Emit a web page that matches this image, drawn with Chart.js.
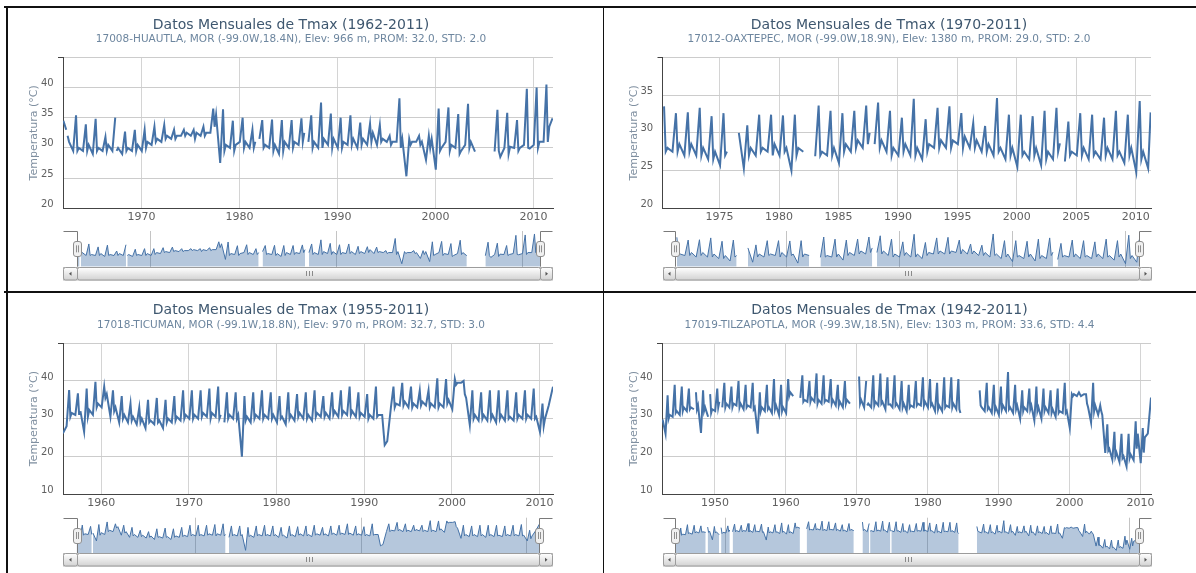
<!DOCTYPE html>
<html lang="es">
<head>
<meta charset="utf-8">
<title>Datos Mensuales de Tmax</title>
<script src="https://cdn.jsdelivr.net/npm/chart.js@4.4.1/dist/chart.umd.min.js"></script>
<style>
  html, body { margin:0; padding:0; background:#fff; }
  body { position:relative; width:1196px; height:573px; overflow:hidden; }
  canvas { position:absolute; }
  .rule { position:absolute; background:#111; }
</style>
</head>
<body>
<div class="rule" style="left:4px;top:6px;width:1192px;height:2px"></div>
<div class="rule" style="left:4px;top:291px;width:1192px;height:2px"></div>
<div class="rule" style="left:6px;top:6px;width:1.5px;height:567px"></div>
<div class="rule" style="left:602.5px;top:6px;width:1.5px;height:567px"></div>

<canvas id="main1"></canvas><canvas id="nav1"></canvas>
<canvas id="main2"></canvas><canvas id="nav2"></canvas>
<canvas id="main3"></canvas><canvas id="nav3"></canvas>
<canvas id="main4"></canvas><canvas id="nav4"></canvas>

<script>
// ================= DATA =================
// four readings per year: winter low (Jan), dry-season peak (Apr/May), early-rain dip (Jun), rainy-season value (Aug)
const MONTH_POS = { low: 0.04, peak: 0.33, dip: 0.47, mid: 0.62 };

// 17008 HUAUTLA (1962-2011)
const s1Start = 1962;
const s1Low  = [34.5,29.5,29.5,29.0,29.5,29.5,29.0,29.5,29.5,30.5, 31.0,31.5,32.0,32.0,32.0,32.5,27.5,30.0,31.0,30.0, 31.5,30.0,29.0,30.0,30.5,31.0,30.0,30.5,30.0,30.5, 30.0,30.5,30.5,31.0,31.0,25.3,31.0,28.0,26.4,31.0, 30.0,30.5,29.4,null,29.4,30.0,30.0,30.5,30.5,31.0];
const s1Peak = [33.0,35.4,33.9,34.8,31.8,35.0,32.7,33.0,33.0,33.5, 33.8,33.0,33.0,33.0,33.5,36.5,36.4,34.5,35.0,33.0, 34.6,34.7,34.6,34.6,34.9,35.4,37.5,35.7,35.0,35.4, 34.2,34.0,33.8,32.0,38.2,31.5,32.0,32.0,36.5,36.7, 35.6,37.3,null,null,36.3,35.8,34.6,39.8,40.0,40.5];
const s1Dip  = [32.0,29.5,29.5,29.5,29.5,29.5,29.5,29.5,30.0,31.0, 31.5,31.5,32.0,31.5,32.0,33.5,29.5,29.5,30.0,30.0, 30.0,29.5,29.5,30.0,31.0,30.0,30.0,30.0,30.0,30.5, 30.5,31.0,31.0,30.5,30.0,30.5,30.5,30.0,29.5,29.5, 29.0,30.0,null,null,29.5,29.0,29.5,30.0,30.0,31.0];
const s1Mid  = [31.0,30.0,30.5,30.0,30.5,30.0,30.0,30.5,31.0,31.5, 32.0,32.0,32.5,32.5,32.5,35.5,30.5,30.5,31.0,31.0, 30.5,30.5,31.0,31.0,32.5,31.0,31.5,31.5,31.0,31.5, 31.5,32.5,31.5,31.0,31.5,31.0,31.0,31.5,30.0,30.5, 29.5,31.0,null,null,28.5,30.2,30.0,29.9,31.0,33.5];
const s1Breaks = [1962.45, 1967.45, 1981.7, 1986.9];
const s1End = [2011.95, 34.9];

// 17012 OAXTEPEC (1970-2011)
const s2Start = 1970;
const s2Low  = [null,27.5,27.0,27.0,26.5,25.7,null,25.3,27.0,27.5, 27.0,25.0,27.5,26.9,27.0,26.0,27.5,28.0,28.5,27.5, 27.0,27.0,26.5,28.0,28.0,28.5,28.0,27.5,27.0,26.5, 25.5,26.5,25.7,26.5,26.2,27.0,26.5,26.5,26.5,26.0, 24.8,25.3];
const s2Peak = [33.5,32.6,32.7,33.3,32.2,32.6,null,31.0,32.4,32.4, 32.3,32.4,null,33.6,32.9,32.6,32.9,33.6,34.0,32.9, 32.0,34.5,31.8,33.3,33.5,32.6,31.3,30.9,34.6,32.4, 32.4,32.2,32.9,33.3,31.5,32.6,32.4,32.0,32.9,32.4, 34.2,null];
const s2Dip  = [27.5,27.5,27.5,27.0,26.5,27.0,null,27.0,27.5,27.0, 27.5,27.0,null,27.0,27.0,27.5,28.0,28.5,28.0,27.0, 27.5,27.0,27.5,28.0,28.0,28.0,28.0,27.5,27.5,27.0, 27.0,27.0,26.5,27.5,27.0,27.0,27.0,27.0,27.0,27.0, 26.5,null];
const s2Mid  = [28.0,28.5,28.5,28.0,27.5,27.5,30.0,28.0,28.0,28.5, 28.0,28.0,null,27.5,28.0,28.5,29.0,30.0,29.0,28.0, 28.5,28.0,28.5,29.0,29.0,29.5,29.0,28.5,28.0,28.0, 27.5,28.0,27.5,28.6,27.5,28.0,27.5,28.0,27.5,28.0, 27.5,null];
const s2Breaks = [1987.8, 2003.8];
const s2End = [2011.25, 32.7];

// 17018 TICUMAN (1955-2011)
const s3Start = 1955;
const s3Low  = [null,28.0,31.0,26.5,31.0,33.0,30.5,29.0,29.0,28.5, 27.5,28.5,27.5,29.0,29.5,30.0,30.0,30.5,30.5,29.0, 30.0,19.9,29.0,30.0,30.0,29.0,28.5,29.5,30.0,29.5, 30.5,30.0,30.5,31.0,30.5,30.5,30.0,31.0,33.0,33.5, 33.0,33.0,33.5,33.0,33.0,32.5,39.5,28.3,29.5,29.5, 29.0,29.5,29.5,30.0,30.0,26.5,33.5];
const s3Peak = [null,37.6,36.7,38.0,39.8,38.5,37.5,36.0,34.0,33.0, 35.0,35.5,35.0,36.0,37.5,37.5,37.5,38.0,38.5,37.0, 37.0,36.0,37.0,37.5,37.0,36.0,37.0,36.5,37.0,37.5, 36.0,37.0,37.5,38.5,37.0,36.5,38.5,23.0,38.5,39.5, 38.5,37.5,37.5,40.7,40.5,40.5,40.0,37.5,37.0,37.5, 37.5,37.5,37.0,37.5,38.0,34.0,null];
const s3Dip  = [null,30.5,31.0,30.5,33.0,35.5,32.0,30.0,29.5,29.0, 29.0,29.0,29.0,29.5,30.0,30.0,30.5,30.0,30.0,30.0, 30.0,29.5,30.0,30.0,30.0,30.0,30.0,30.5,30.0,30.5, 30.5,31.0,31.0,31.0,30.5,30.0,30.5,23.5,33.0,33.5, 33.0,33.5,33.0,33.0,34.0,39.0,36.5,30.0,30.0,30.0, 30.0,30.0,30.0,30.0,30.0,28.0,null];
const s3Mid  = [26.1,31.5,32.0,32.3,34.0,36.5,33.0,31.0,30.5,30.0, 29.5,29.5,30.0,30.5,31.0,31.0,31.5,31.5,31.0,31.0, 31.0,30.5,31.0,31.0,31.0,30.5,31.0,31.5,31.0,31.5, 31.5,32.0,32.0,32.0,31.5,31.0,31.0,24.0,34.0,34.5, 34.0,34.5,34.0,34.0,35.0,39.5,35.5,31.0,31.0,31.0, 31.0,30.5,31.0,31.0,30.5,30.0,null];
const s3Breaks = [1957.5, 1973.9];
const s3End = [2011.53, 38.5];

// 17019 TILZAPOTLA (1942-2011)
const s4Start = 1942;
const s4Low  = [null,26.0,30.5,31.0,32.0,32.5,26.2,30.5,32.0,33.0, 33.0,33.5,32.5,33.0,26.0,32.0,31.5,31.0,31.5,36.0, 35.5,34.5,34.5,34.0,34.5,33.5,33.0,34.0,null,33.0, 33.0,33.5,32.5,33.0,32.5,32.0,33.0,33.5,33.0,32.0, 32.0,33.0,32.5,null,null,null,32.0,31.5,31.0,32.0, 31.5,30.0,32.0,29.5,30.0,31.5,30.5,31.5,27.5,36.0, 36.5,29.0,31.0,20.9,19.1,18.5,17.3,19.0,18.2,26.0];
const s4Peak = [null,36.2,39.0,38.5,38.0,37.0,37.5,36.5,38.0,39.5, 38.5,40.0,39.0,39.5,37.0,39.0,40.5,39.0,40.5,null, 41.5,40.0,42.0,41.5,40.5,39.0,40.0,null,41.2,40.0, 41.5,42.0,41.0,41.5,40.0,39.0,40.0,41.0,40.5,39.5, 41.0,41.0,40.5,null,null,37.5,39.5,39.0,38.5,42.4, 39.0,37.5,38.0,38.5,38.0,37.5,38.0,39.5,36.5,37.0, 36.5,39.5,33.5,28.5,26.5,26.0,26.0,29.3,27.5,null];
const s4Dip  = [null,30.0,31.5,32.0,32.5,32.5,32.0,31.5,33.0,33.0, 33.0,33.0,33.0,32.5,32.0,32.5,32.5,32.0,36.0,null, 34.5,34.5,34.0,34.5,34.0,33.5,34.0,null,34.0,33.5, 33.5,34.0,33.5,33.5,33.0,33.0,33.5,33.5,33.5,32.5, 33.0,33.0,32.5,null,null,33.5,32.5,32.0,32.5,32.5, 32.5,32.0,32.5,32.0,32.0,31.5,31.5,31.5,36.0,36.5, 34.0,32.0,32.0,21.5,20.0,19.5,19.5,22.0,21.0,null];
const s4Mid  = [29.8,31.0,32.0,33.0,33.0,33.5,33.0,32.5,34.5,34.0, 34.0,34.0,33.5,33.0,33.0,33.0,33.5,33.0,37.0,null, 35.0,35.5,35.0,35.0,35.0,34.5,35.0,null,35.0,34.0, 34.5,34.5,34.0,34.0,34.0,33.5,34.0,34.5,34.0,33.5, 33.5,34.0,31.5,null,null,33.0,33.0,33.0,33.5,33.0, 33.5,33.0,33.5,33.0,33.0,32.5,32.0,32.0,36.5,36.0, 33.0,33.5,31.0,22.0,21.0,20.0,20.5,26.0,25.0,null];
const s4Breaks = [1947.2, 1949.2, 1951.0, 1971.45, 1974.6];
const s4End = [2011.49, 35.6];

// titles
const titles = ['Datos Mensuales de Tmax (1962-2011)','Datos Mensuales de Tmax (1970-2011)','Datos Mensuales de Tmax (1955-2011)','Datos Mensuales de Tmax (1942-2011)'];
const subtitles = [
  '17008-HUAUTLA, MOR (-99.0W,18.4N), Elev: 966 m, PROM: 32.0, STD: 2.0',
  '17012-OAXTEPEC, MOR (-99.0W,18.9N), Elev: 1380 m, PROM: 29.0, STD: 2.0',
  '17018-TICUMAN, MOR (-99.1W,18.8N), Elev: 970 m, PROM: 32.7, STD: 3.0',
  '17019-TILZAPOTLA, MOR (-99.3W,18.5N), Elev: 1303 m, PROM: 33.6, STD: 4.4'
];
const yAxisTitle = 'Temperatura (°C)';

// axis ranges and tick labels
const xRanges = [[1962.0, 2012.0],[1970.2, 2011.28],[1955.63, 2011.53],[1942.54, 2011.49]];
const xTicks = [[1970,1980,1990,2000,2010],[1975,1980,1985,1990,1995,2000,2005,2010],[1960,1970,1980,1990,2000,2010],[1950,1960,1970,1980,1990,2000,2010]];
const navTicks = [[1970,1990,2010],[1980,1990,2000,2010],[1970,1990,2010],[1950,1980,2010]];
const yTicks = [[20,25,30,35,40,45],[20,25,30,35,40],[10,20,30,40,50],[10,20,30,40,50]];

// ================= STYLE / LAYOUT =================
const FONT = "'DejaVu Sans', Verdana, sans-serif";
const SERIES_COLOR = '#4572A7';
const NAV_FILL = 'rgba(69,114,167,0.40)';

const mainLayout = [
  {left:8,   top:9,   w:566, h:216, yW:55,   rW:21, xH:16.7, tPad:9,   sPadT:2,   sPadB:12.8},
  {left:608, top:9,   w:562, h:216, yW:54.5, rW:19, xH:16.7, tPad:9,   sPadT:2,   sPadB:12.8},
  {left:8,   top:294, w:566, h:216, yW:55,   rW:21, xH:16,   tPad:9.7, sPadT:2,   sPadB:13.1},
  {left:608, top:294, w:563, h:216, yW:54,   rW:20, xH:16,   tPad:9.7, sPadT:2,   sPadB:13.1}
];
const navLayout = [
  {left:63,    top:228, w:490, h:54, pl:13.5, pr:12.3, pt:3,   pb:15.3},
  {left:662.5, top:228, w:489, h:54, pl:12.4, pr:12.5, pt:3,   pb:15.3},
  {left:63,    top:514, w:490, h:54, pl:13.5, pr:13.4, pt:3.7, pb:14.7},
  {left:662.5, top:514, w:489, h:54, pl:12.4, pr:12.5, pt:3.7, pb:14.7}
];

// ================= BUILD =================
function buildSeries(start, low, peak, dip, mid, breaks, end) {
  let pts = [];
  for (let i = 0; i < low.length; i++) {
    const yr = start + i;
    pts.push({x: yr + MONTH_POS.low,  y: low[i]});
    pts.push({x: yr + MONTH_POS.peak, y: peak[i]});
    pts.push({x: yr + MONTH_POS.dip,  y: dip[i]});
    pts.push({x: yr + MONTH_POS.mid,  y: mid[i]});
  }
  breaks.forEach(b => pts.push({x: b, y: null}));
  if (end) {
    // unread months of the final partial year lie before the last reading; drop those placeholders
    const lastYear = start + low.length - 1;
    pts = pts.filter(p => !(p.y === null && p.x > lastYear && p.x < end[0]));
    pts.push({x: end[0], y: end[1]});
  }
  pts.sort((a, b) => a.x - b.x);
  return pts;
}

const series = [
  buildSeries(s1Start, s1Low, s1Peak, s1Dip, s1Mid, s1Breaks, s1End),
  buildSeries(s2Start, s2Low, s2Peak, s2Dip, s2Mid, s2Breaks, s2End),
  buildSeries(s3Start, s3Low, s3Peak, s3Dip, s3Mid, s3Breaks, s3End),
  buildSeries(s4Start, s4Low, s4Peak, s4Dip, s4Mid, s4Breaks, s4End)
];

function sizeCanvas(id, L) {
  const c = document.getElementById(id);
  c.width = L.w; c.height = L.h;
  c.style.left = L.left + 'px'; c.style.top = L.top + 'px';
  c.style.width = L.w + 'px'; c.style.height = L.h + 'px';
  return c;
}

const navDecor = {
  id: 'navDecor',
  afterDraw(chart) {
    const {ctx, chartArea: a, width: W} = chart;
    const T = Math.round(a.top) + 0.5;
    const B = a.bottom;
    const xl = Math.round(a.left) + 0.5, xr = Math.round(a.right) - 0.5;
    ctx.save();
    // outline
    ctx.strokeStyle = '#7a7a7a'; ctx.lineWidth = 1;
    ctx.beginPath();
    ctx.moveTo(0.5, T); ctx.lineTo(xl, T); ctx.lineTo(xl, B);
    ctx.moveTo(W - 0.5, T); ctx.lineTo(xr, T); ctx.lineTo(xr, B);
    ctx.stroke();
    // scrollbar
    const sy = Math.round(B) + 0.5, sh = 12.5;
    const grad = (y0, y1, c0, c1) => { const g = ctx.createLinearGradient(0, y0, 0, y1); g.addColorStop(0, c0); g.addColorStop(1, c1); return g; };
    ctx.fillStyle = grad(sy, sy + sh, '#f3f3f3', '#ffffff');
    ctx.fillRect(0.5, sy, W - 1, sh);
    ctx.strokeStyle = '#bdbdbd'; ctx.strokeRect(0.5, sy, W - 1, sh);
    // thumb
    ctx.beginPath(); ctx.roundRect(xl, sy, xr - xl, sh, 2);
    ctx.fillStyle = grad(sy, sy + sh, '#ffffff', '#d2d2d2'); ctx.fill();
    ctx.strokeStyle = '#9c9c9c'; ctx.stroke();
    // buttons
    [[0.5, xl], [xr, W - 0.5]].forEach(([b0, b1], k) => {
      ctx.beginPath(); ctx.roundRect(b0, sy, b1 - b0, sh, 2);
      ctx.fillStyle = grad(sy, sy + sh, '#ffffff', '#d2d2d2'); ctx.fill();
      ctx.strokeStyle = '#9c9c9c'; ctx.stroke();
      const cx = (b0 + b1) / 2, cy = sy + sh / 2;
      ctx.beginPath();
      if (k === 0) { ctx.moveTo(cx - 1.5, cy); ctx.lineTo(cx + 1, cy - 2); ctx.lineTo(cx + 1, cy + 2); }
      else { ctx.moveTo(cx + 1.5, cy); ctx.lineTo(cx - 1, cy - 2); ctx.lineTo(cx - 1, cy + 2); }
      ctx.closePath(); ctx.fillStyle = '#555'; ctx.fill();
    });
    // grip
    const gx = Math.round((xl + xr) / 2) + 0.5;
    ctx.strokeStyle = '#8a8a8a'; ctx.beginPath();
    [-3, 0, 3].forEach(d => { ctx.moveTo(gx + d, sy + 3.5); ctx.lineTo(gx + d, sy + 8.5); });
    ctx.stroke();
    // handles
    const hc = (a.top + a.bottom) / 2;
    [xl, xr].forEach(x => {
      ctx.beginPath(); ctx.roundRect(x - 4, Math.round(hc - 7.5) + 0.5, 8, 15, 2.5);
      ctx.fillStyle = '#f0f0f0'; ctx.fill();
      ctx.strokeStyle = '#8f8f8f'; ctx.stroke();
      ctx.strokeStyle = '#8f8f8f'; ctx.beginPath();
      ctx.moveTo(x - 1, hc - 3.5); ctx.lineTo(x - 1, hc + 3.5);
      ctx.moveTo(x + 1, hc - 3.5); ctx.lineTo(x + 1, hc + 3.5);
      ctx.stroke();
    });
    ctx.restore();
  }
};

for (let i = 0; i < 4; i++) {
  const M = mainLayout[i], N = navLayout[i];
  const [xMin, xMax] = xRanges[i];
  const yt = yTicks[i];
  const yMin = yt[0], yMax = yt[yt.length - 1];
  const data = series[i];

  new Chart(sizeCanvas('main' + (i + 1), M), {
    type: 'line',
    data: { datasets: [{ data, borderColor: SERIES_COLOR, borderWidth: 2, pointRadius: 0, tension: 0, fill: false, spanGaps: false, yAxisID: 'y' }] },
    options: {
      responsive: false, animation: false, events: [],
      layout: { padding: 0 },
      plugins: {
        legend: { display: false }, tooltip: { enabled: false },
        title: { display: true, text: titles[i], color: '#3E576F', font: { family: FONT, size: 14, weight: 'normal', lineHeight: 1 }, padding: { top: M.tPad, bottom: 0 } },
        subtitle: { display: true, text: subtitles[i], color: '#6D869F', font: { family: FONT, size: 10.5, weight: 'normal', lineHeight: 1 }, padding: { top: M.sPadT, bottom: M.sPadB } }
      },
      scales: {
        x: {
          type: 'linear', min: xMin, max: xMax,
          afterBuildTicks: s => { s.ticks = xTicks[i].map(v => ({ value: v })); },
          afterFit: s => { s.height = M.xH; s.paddingLeft = 0; s.paddingRight = 0; },
          grid: { color: '#d4d4d4', lineWidth: 1, drawTicks: false },
          border: { display: true, color: '#444', width: 1 },
          ticks: { color: '#606060', font: { family: FONT, size: 11 }, padding: 2.4, maxRotation: 0, autoSkip: false, callback: v => String(v) }
        },
        y: {
          type: 'linear', position: 'left', min: yMin, max: yMax,
          afterBuildTicks: s => { s.ticks = yt.map(v => ({ value: v })); },
          afterFit: s => { s.width = M.yW; s.paddingTop = 0; s.paddingBottom = 0; },
          grid: { color: '#cccccc', lineWidth: 1, drawTicks: true, tickLength: 5,
                  tickColor: c => (c.tick && c.tick.value === yMax) ? '#444' : 'rgba(0,0,0,0)' },
          border: { display: true, color: '#444', width: 1 },
          ticks: { color: '#606060', font: { family: FONT, size: 10 }, padding: 4.4, labelOffset: -4, autoSkip: false,
                   callback: v => v === yMax ? '' : String(v) },
          title: { display: true, text: yAxisTitle, color: '#7F8FA0', font: { family: FONT, size: 11 }, padding: { top: 19.9, bottom: 0 } }
        },
        yR: {
          type: 'linear', position: 'right', display: true,
          afterFit: s => { s.width = M.rW; },
          grid: { display: false, drawTicks: false }, border: { display: false }, ticks: { display: false }
        }
      }
    }
  });

  // navigator range from data extremes with 10% padding
  const vals = data.map(p => p.y).filter(v => v !== null);
  const dMin = Math.min(...vals), dMax = Math.max(...vals), pad = (dMax - dMin) * 0.1;

  new Chart(sizeCanvas('nav' + (i + 1), N), {
    type: 'line',
    data: { datasets: [{ data, borderColor: SERIES_COLOR, borderWidth: 1, pointRadius: 0, tension: 0, fill: 'start', backgroundColor: NAV_FILL, spanGaps: false }] },
    options: {
      responsive: false, animation: false, events: [],
      layout: { padding: { left: N.pl, right: N.pr, top: N.pt, bottom: N.pb } },
      plugins: { legend: { display: false }, tooltip: { enabled: false } },
      scales: {
        x: {
          type: 'linear', min: xMin, max: xMax,
          afterBuildTicks: s => { s.ticks = navTicks[i].map(v => ({ value: v })); },
          afterFit: s => { s.height = 0; s.paddingLeft = 0; s.paddingRight = 0; },
          grid: { color: '#c4c4c4', lineWidth: 1, drawTicks: false },
          border: { display: false },
          ticks: { align: 'start', labelOffset: 3, padding: -14, color: '#8a8a8a', font: { family: FONT, size: 10 }, z: 1, maxRotation: 0, autoSkip: false, callback: v => String(v) }
        },
        y: { display: false, min: dMin - pad, max: dMax + pad }
      }
    },
    plugins: [navDecor]
  });
}
</script>
</body>
</html>
